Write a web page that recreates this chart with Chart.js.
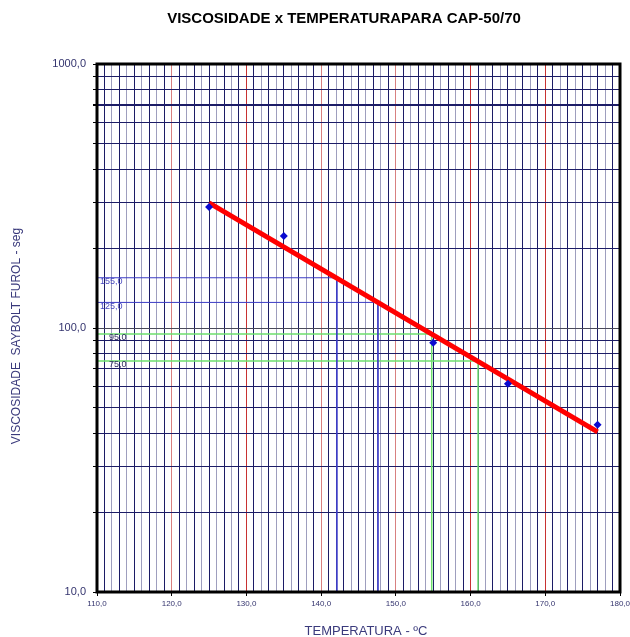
<!DOCTYPE html>
<html>
<head>
<meta charset="utf-8">
<script src="https://cdn.jsdelivr.net/npm/chart.js@4.4.0/dist/chart.umd.min.js"></script>
<style>
  html, body { margin: 0; padding: 0; background: #ffffff; }
  #wrap { width: 630px; height: 637px; position: relative; }
</style>
</head>
<body>
<div id="wrap"><canvas id="chart" width="630" height="637"></canvas></div>
<script>
// Measured Saybolt Furol viscosity (s) at each test temperature (°C)
const temperatures = [125, 135, 155, 165, 177];
const viscosities = [287, 223, 88, 61.5, 43];

// Fitted viscosity-temperature line (end points)
const fitTemps = [125, 177];
const fitVisc = [298, 40.4];

// Target viscosity ranges and the temperatures where they meet the fitted line
const compactionVisc = [155, 125];
const compactionTemps = [142.1, 147.6];
const mixingVisc = [95, 75];
const mixingTemps = [154.8, 161.0];

// Axis ranges and tick values
const xMin = 110, xMax = 180;
const yMin = 10, yMax = 1000;
const xTicks = [];
for (let t = xMin; t <= xMax; t++) xTicks.push(t);
const yTicks = [10, 20, 30, 40, 50, 60, 70, 80, 90, 100, 200, 300, 400, 500, 600, 700, 800, 900, 1000];
const yLabelled = [10, 100, 1000];

const fmt = v => v.toFixed(1).replace('.', ',');

function refLine(v, t) {
  return [{ x: xMin, y: v }, { x: t, y: v }, { x: t, y: yMin }];
}

const datasets = [
  {
    label: 'Ensaios',
    data: temperatures.map((t, i) => ({ x: t, y: viscosities[i] })),
    showLine: false,
    pointStyle: 'rectRot',
    pointRadius: 4,
    pointBackgroundColor: '#0a0ad0',
    pointBorderColor: '#0a0ad0',
    borderWidth: 0
  },
  {
    label: 'Ajuste',
    data: fitTemps.map((t, i) => ({ x: t, y: fitVisc[i] })),
    borderColor: '#ff0000',
    borderWidth: 5,
    pointRadius: 0,
    tension: 0
  }
];
compactionVisc.forEach((v, i) => datasets.push({
  label: fmt(v),
  data: refLine(v, compactionTemps[i]),
  borderColor: '#3b3bc4',
  borderWidth: 1,
  pointRadius: 0,
  tension: 0,
  refLabel: { color: '#4a4ac0', dx: 3 }
}));
mixingVisc.forEach((v, i) => datasets.push({
  label: fmt(v),
  data: refLine(v, mixingTemps[i]),
  borderColor: '#6ee06e',
  borderWidth: 1.5,
  pointRadius: 0,
  tension: 0,
  refLabel: { color: '#2e2e5e', dx: 12 }
}));

const navy = '#1c1c66';
const navyLight = 'rgba(40,40,110,0.45)';
const font = 'Arial, "Liberation Sans", sans-serif';

// Value labels for the reference lines, frame and axis titles
const decorations = {
  id: 'decorations',
  afterDatasetsDraw(chart) {
    const { ctx, chartArea: a, scales } = chart;
    ctx.save();
    ctx.font = '9px ' + font;
    ctx.textAlign = 'left';
    ctx.textBaseline = 'middle';
    chart.data.datasets.forEach(ds => {
      if (!ds.refLabel) return;
      const y = scales.y.getPixelForValue(ds.data[0].y);
      ctx.fillStyle = ds.refLabel.color;
      ctx.fillText(ds.label, a.left + ds.refLabel.dx, y + 4);
    });
    ctx.restore();
  },
  afterDraw(chart) {
    const { ctx, chartArea: a } = chart;
    ctx.save();
    ctx.strokeStyle = '#000000';
    ctx.lineWidth = 3;
    ctx.strokeRect(a.left, a.top, a.right - a.left, a.bottom - a.top);

    ctx.fillStyle = '#000000';
    ctx.font = 'bold 15px ' + font;
    ctx.textAlign = 'center';
    ctx.textBaseline = 'middle';
    ctx.fillText('VISCOSIDADE x TEMPERATURAPARA CAP-50/70', 344, 19);

    ctx.fillStyle = '#3a3a7c';
    ctx.font = '13px ' + font;
    ctx.fillText('TEMPERATURA - ºC', 366, 631);

    ctx.font = '12px ' + font;
    ctx.translate(17, 336);
    ctx.rotate(-Math.PI / 2);
    ctx.fillText('VISCOSIDADE  SAYBOLT FUROL - seg', 0, 0);
    ctx.restore();
  }
};

new Chart(document.getElementById('chart'), {
  type: 'line',
  data: { datasets },
  options: {
    responsive: false,
    animation: false,
    events: [],
    layout: { padding: { top: 64, right: 10, bottom: 0, left: 0 } },
    plugins: { legend: { display: false }, tooltip: { enabled: false }, title: { display: false } },
    scales: {
      x: {
        type: 'linear',
        min: xMin,
        max: xMax,
        afterBuildTicks: s => { s.ticks = xTicks.map(v => ({ value: v })); },
        afterFit: s => { s.height = 45; s.paddingLeft = 0; s.paddingRight = 0; },
        border: { display: false },
        grid: {
          drawTicks: true,
          tickLength: 4,
          tickColor: c => (c.tick && c.tick.value % 10 === 0) ? '#000000' : 'rgba(0,0,0,0)',
          color: c => {
            const v = c.tick ? c.tick.value : 0;
            if (v === xMin || v === xMax) return 'rgba(0,0,0,0)';
            if (v % 10 === 0) return (v === 130 || v === 160 || v === 170) ? '#c83232' : '#d88080';
            return v % 2 === 1 ? navy : navyLight;
          },
          lineWidth: 1
        },
        ticks: {
          autoSkip: false,
          maxRotation: 0,
          padding: 3,
          color: '#34346e',
          font: { family: font, size: 8 },
          callback: v => (v % 10 === 0 ? fmt(v) : '')
        }
      },
      y: {
        type: 'logarithmic',
        min: yMin,
        max: yMax,
        afterBuildTicks: s => { s.ticks = yTicks.map(v => ({ value: v })); },
        afterFit: s => { s.width = 97; s.paddingTop = 0; s.paddingBottom = 0; },
        border: { display: false },
        grid: {
          drawTicks: true,
          tickLength: 4,
          tickColor: '#000000',
          color: c => {
            const v = c.tick ? c.tick.value : 0;
            if (v === yMin || v === yMax) return 'rgba(0,0,0,0)';
            return v === 100 ? '#4a4a5a' : navy;
          },
          lineWidth: c => (c.tick && c.tick.value === 700 ? 2 : 1)
        },
        ticks: {
          autoSkip: false,
          padding: 7,
          color: '#34346e',
          font: { family: font, size: 11 },
          callback: v => (yLabelled.includes(v) ? fmt(v) : '')
        }
      }
    }
  },
  plugins: [decorations]
});
</script>
</body>
</html>
